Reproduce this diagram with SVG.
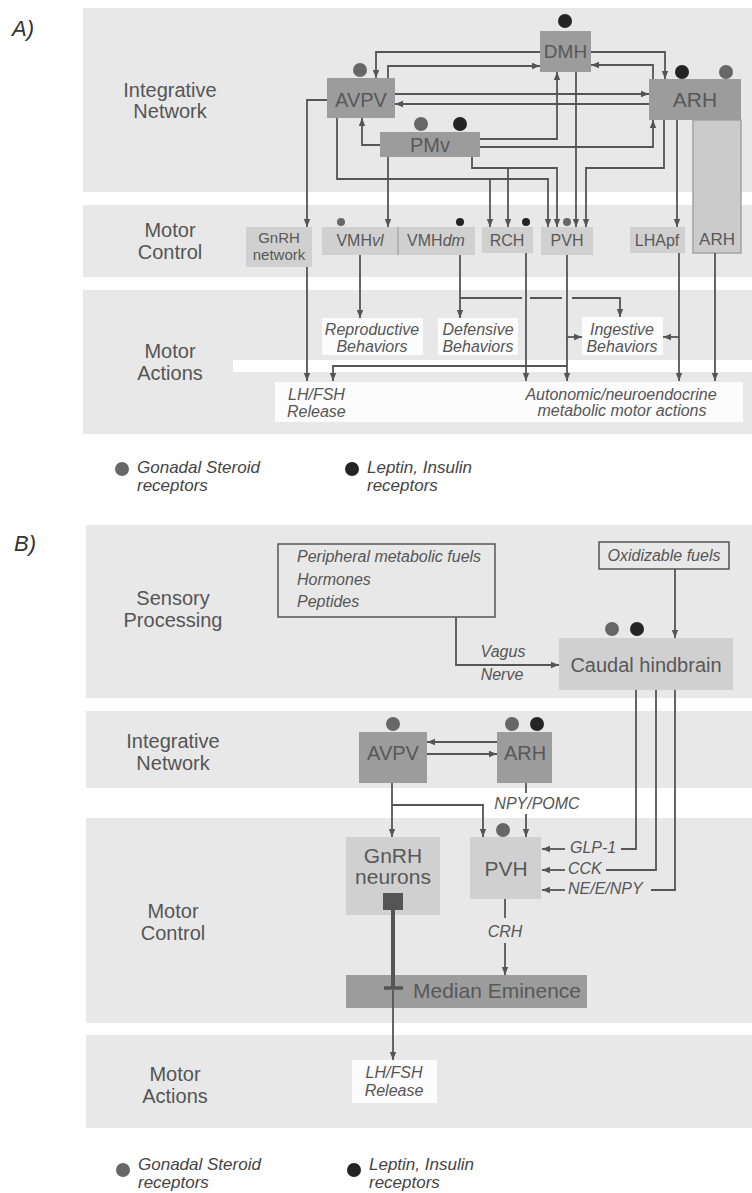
<svg xmlns="http://www.w3.org/2000/svg" width="752" height="1193" viewBox="0 0 752 1193">
<defs>
  <marker id="ah" viewBox="0 0 8 8" refX="8" refY="4" markerWidth="8" markerHeight="8" markerUnits="userSpaceOnUse" orient="auto">
    <path d="M0,0.8 L8,4 L0,7.2 z" fill="#555"/>
  </marker>
  <style>
    .band{fill:#e8e8e8}
    .white{fill:#fcfcfc}
    .lbl{font-family:"Liberation Sans",Arial,sans-serif;font-size:20px;fill:#555;text-anchor:middle}
    .dark{fill:#9c9c9c}
    .light{fill:#d0d0d0}
    .nt{font-family:"Liberation Sans",Arial,sans-serif;fill:#585858;text-anchor:middle}
    .it{font-family:"Liberation Sans",Arial,sans-serif;font-style:italic;fill:#555;font-size:16px}
    .mid{text-anchor:middle}
    .ln{fill:none;stroke:#555;stroke-width:1.8}
    .ar{marker-end:url(#ah)}
    .gd{fill:#676767}
    .bd{fill:#242424}
    .panel{font-family:"Liberation Sans",Arial,sans-serif;font-style:italic;font-size:22px;fill:#333}
    .leg{font-family:"Liberation Sans",Arial,sans-serif;font-style:italic;font-size:17px;fill:#444}
    .src{fill:none;stroke:#555;stroke-width:1.5}
  </style>
</defs>

<!-- ===== Panel A ===== -->
<g id="a-background">
  <text class="panel" x="12" y="36">A)</text>
  <rect class="band" x="83" y="8" width="669" height="184"/>
  <rect class="band" x="83" y="205" width="669" height="72"/>
  <rect class="band" x="83" y="290" width="669" height="144"/>
  <rect fill="#fff" x="233" y="360" width="519" height="12"/>
  <rect class="white" x="275" y="382" width="468" height="40"/>
  <text class="lbl" x="170" y="97">Integrative</text>
  <text class="lbl" x="170" y="118">Network</text>
  <text class="lbl" x="170" y="237">Motor</text>
  <text class="lbl" x="170" y="259">Control</text>
  <text class="lbl" x="170" y="358">Motor</text>
  <text class="lbl" x="170" y="380">Actions</text>
</g>

<g id="a-dmh">
  <circle class="bd" cx="565" cy="21" r="7"/>
  <rect class="dark" x="540" y="31" width="51" height="41"/>
  <text class="nt" x="565.5" y="58" font-size="19">DMH</text>
</g>
<g id="a-avpv">
  <circle class="gd" cx="360" cy="70" r="7"/>
  <rect class="dark" x="327" y="78" width="68" height="40"/>
  <text class="nt" x="361" y="107" font-size="20">AVPV</text>
</g>
<g id="a-pmv">
  <circle class="gd" cx="421" cy="124" r="7"/>
  <circle class="bd" cx="460" cy="124" r="7"/>
  <rect class="dark" x="380" y="132" width="100" height="25"/>
  <text class="nt" x="430" y="152" font-size="20">PMv</text>
</g>
<g id="a-arh-lower">
  <rect x="693" y="120" width="48" height="133" fill="#cbcbcb" stroke="#a3a3a3" stroke-width="1.5"/>
  <text class="nt" x="717" y="245" font-size="17">ARH</text>
</g>
<g id="a-arh">
  <circle class="bd" cx="682" cy="72" r="7"/>
  <circle class="gd" cx="726" cy="72" r="7"/>
  <rect class="dark" x="649" y="79" width="92" height="41"/>
  <text class="nt" x="695" y="107" font-size="21">ARH</text>
</g>

<g id="a-gnrh-network">
  <rect class="light" x="246" y="227" width="66" height="40"/>
  <text class="nt" x="279" y="243" font-size="15">GnRH</text>
  <text class="nt" x="279" y="260" font-size="15">network</text>
</g>
<g id="a-vmh">
  <circle class="gd" cx="341" cy="222" r="4"/>
  <circle class="bd" cx="460" cy="222" r="4"/>
  <rect class="light" x="322" y="227" width="153" height="28"/>
  <line x1="398" y1="227" x2="398" y2="255" stroke="#a8a8a8" stroke-width="1.5"/>
  <text class="nt" x="360" y="246" font-size="16">VMH<tspan font-style="italic">vl</tspan></text>
  <text class="nt" x="436" y="246" font-size="16">VMH<tspan font-style="italic">dm</tspan></text>
</g>
<g id="a-rch">
  <circle class="bd" cx="526" cy="222" r="4"/>
  <rect class="light" x="482" y="227" width="51" height="26"/>
  <text class="nt" x="507" y="246" font-size="16">RCH</text>
</g>
<g id="a-pvh">
  <circle class="gd" cx="567" cy="222" r="4"/>
  <rect class="light" x="541" y="227" width="52" height="28"/>
  <text class="nt" x="567" y="246" font-size="16">PVH</text>
</g>
<g id="a-lhapf">
  <rect class="light" x="630" y="227" width="55" height="26"/>
  <text class="nt" x="657" y="246" font-size="16">LHApf</text>
</g>

<g id="a-reproductive">
  <rect class="white" x="322" y="318" width="101" height="37"/>
  <text class="it mid" x="372" y="335">Reproductive</text>
  <text class="it mid" x="372" y="352">Behaviors</text>
</g>
<g id="a-defensive">
  <rect class="white" x="438" y="318" width="80" height="37"/>
  <text class="it mid" x="478" y="335">Defensive</text>
  <text class="it mid" x="478" y="352">Behaviors</text>
</g>
<g id="a-ingestive">
  <rect class="white" x="582" y="317" width="81" height="38"/>
  <text class="it mid" x="622" y="335">Ingestive</text>
  <text class="it mid" x="622" y="352">Behaviors</text>
</g>
<g id="a-lhfsh">
  <text class="it" x="288" y="400">LH/FSH</text>
  <text class="it" x="287" y="417">Release</text>
</g>
<g id="a-autonomic">
  <text class="it mid" x="621" y="400">Autonomic/neuroendocrine</text>
  <text class="it mid" x="622" y="416">metabolic motor actions</text>
</g>

<g id="a-legend">
  <circle class="gd" cx="122" cy="469" r="7"/>
  <text class="leg" x="137" y="473">Gonadal Steroid</text>
  <text class="leg" x="137" y="491">receptors</text>
  <circle class="bd" cx="352" cy="469" r="7"/>
  <text class="leg" x="367" y="473">Leptin, Insulin</text>
  <text class="leg" x="367" y="491">receptors</text>
</g>

<g id="a-connectors">
  <path class="ln ar" d="M540,52 H376 V78"/>
  <path class="ln ar" d="M591,52 H665 V79"/>
  <path class="ln ar" d="M388,78 V66 H540"/>
  <path class="ln ar" d="M653,79 V65 H591"/>
  <path class="ln ar" d="M395,94 H649"/>
  <path class="ln ar" d="M649,104 H395"/>
  <path class="ln ar" d="M380,145 H362 V118"/>
  <path class="ln ar" d="M480,139 H557 V72"/>
  <path class="ln ar" d="M480,147 H653 V120"/>
  <path class="ln ar" d="M576,72 V227"/>
  <path class="ln ar" d="M664,120 V168 H586 V227"/>
  <path class="ln ar" d="M337,118 V179 H548 V227"/>
  <path class="ln ar" d="M490,179 V227"/>
  <path class="ln ar" d="M472,157 V168 H557 V227"/>
  <path class="ln ar" d="M508,168 V227"/>
  <path class="ln ar" d="M388,157 V227"/>
  <path class="ln ar" d="M327,100 H307 V227"/>
  <path class="ln ar" d="M677,120 V227"/>
  <path class="ln ar" d="M307,267 V381"/>
  <path class="ln ar" d="M360,255 V318"/>
  <path class="ln ar" d="M460,255 V318"/>
  <path class="ln ar" d="M460,298 H522 M530,298 H562 M572,298 H620 V317"/>
  <path class="ln ar" d="M526,253 V381"/>
  <path class="ln ar" d="M567,255 V381"/>
  <path class="ln ar" d="M567,337 H582"/>
  <path class="ln ar" d="M567,366 H333 V381"/>
  <path class="ln ar" d="M679,253 V381"/>
  <path class="ln ar" d="M679,337 H663"/>
  <path class="ln ar" d="M715,253 V381"/>
</g>

<!-- ===== Panel B ===== -->
<g id="b-background">
  <text class="panel" x="14" y="551">B)</text>
  <rect class="band" x="86" y="525" width="666" height="173"/>
  <rect class="band" x="86" y="711" width="666" height="77"/>
  <rect class="band" x="86" y="818" width="666" height="205"/>
  <rect class="band" x="86" y="1035" width="666" height="93"/>
  <text class="lbl" x="173" y="605">Sensory</text>
  <text class="lbl" x="173" y="627">Processing</text>
  <text class="lbl" x="173" y="748">Integrative</text>
  <text class="lbl" x="173" y="770">Network</text>
  <text class="lbl" x="173" y="918">Motor</text>
  <text class="lbl" x="173" y="940">Control</text>
  <text class="lbl" x="175" y="1081">Motor</text>
  <text class="lbl" x="175" y="1103">Actions</text>
</g>

<g id="b-peripheral">
  <rect class="src" x="278" y="544" width="217" height="73"/>
  <text class="it" x="297" y="562">Peripheral metabolic fuels</text>
  <text class="it" x="297" y="585">Hormones</text>
  <text class="it" x="297" y="607">Peptides</text>
</g>
<g id="b-oxidizable">
  <rect class="src" x="599" y="542" width="130" height="27"/>
  <text class="it mid" x="664" y="561">Oxidizable fuels</text>
</g>
<g id="b-caudal">
  <circle class="gd" cx="612" cy="629" r="7"/>
  <circle class="bd" cx="637" cy="629" r="7"/>
  <rect class="light" x="559" y="638" width="174" height="52"/>
  <text class="nt" x="646" y="672" font-size="20">Caudal hindbrain</text>
</g>
<g id="b-avpv">
  <circle class="gd" cx="393" cy="724" r="7"/>
  <rect class="dark" x="359" y="732" width="68" height="51"/>
  <text class="nt" x="393" y="760" font-size="20">AVPV</text>
</g>
<g id="b-arh">
  <circle class="gd" cx="512" cy="724" r="7"/>
  <circle class="bd" cx="537" cy="724" r="7"/>
  <rect class="dark" x="497" y="732" width="55" height="51"/>
  <text class="nt" x="525" y="760" font-size="20">ARH</text>
</g>
<g id="b-gnrh">
  <rect class="light" x="346" y="837" width="94" height="78"/>
  <text class="nt" x="393" y="863" font-size="21">GnRH</text>
  <text class="nt" x="393" y="884" font-size="21">neurons</text>
  <rect x="383" y="893" width="20" height="17" fill="#555"/>
</g>
<g id="b-pvh">
  <circle class="gd" cx="503" cy="830" r="7"/>
  <rect class="light" x="470" y="837" width="71" height="62"/>
  <text class="nt" x="506" y="876" font-size="21">PVH</text>
</g>
<g id="b-median-eminence">
  <rect class="dark" x="346" y="975" width="241" height="33"/>
  <text class="nt" x="497" y="998" font-size="21">Median Eminence</text>
</g>
<g id="b-lhfsh">
  <rect class="white" x="352" y="1060" width="85" height="43"/>
  <text class="it mid" x="394" y="1078">LH/FSH</text>
  <text class="it mid" x="394" y="1096">Release</text>
</g>

<g id="b-legend">
  <circle class="gd" cx="123" cy="1170" r="7"/>
  <text class="leg" x="138" y="1170">Gonadal Steroid</text>
  <text class="leg" x="138" y="1188">receptors</text>
  <circle class="bd" cx="354" cy="1170" r="7"/>
  <text class="leg" x="369" y="1170">Leptin, Insulin</text>
  <text class="leg" x="369" y="1188">receptors</text>
</g>

<g id="b-connectors">
  <path class="ln ar" d="M456,617 V665 H559"/>
  <text class="it mid" x="503" y="657">Vagus</text>
  <text class="it mid" x="502" y="680">Nerve</text>
  <path class="ln ar" d="M675,569 V638"/>
  <path class="ln ar" d="M497,742 H427"/>
  <path class="ln ar" d="M427,754 H497"/>
  <path class="ln ar" d="M392,783 V837"/>
  <path class="ln ar" d="M392,805 H483 V837"/>
  <path class="ln" d="M526,783 V793"/>
  <text class="it mid" x="537" y="809">NPY/POMC</text>
  <path class="ln ar" d="M526,814 V837"/>
  <path class="ln" d="M636,690 V849 H621"/>
  <path class="ln" d="M656,690 V870 H606"/>
  <path class="ln" d="M675,690 V890 H651"/>
  <path class="ln ar" d="M565,849 H542"/>
  <path class="ln ar" d="M565,870 H542"/>
  <path class="ln ar" d="M565,890 H542"/>
  <text class="it" x="570" y="853">GLP-1</text>
  <text class="it" x="568" y="874">CCK</text>
  <text class="it" x="568" y="894">NE/E/NPY</text>
  <path class="ln" d="M505,899 V918"/>
  <text class="it mid" x="505" y="937">CRH</text>
  <path class="ln ar" d="M505,943 V975"/>
  <path d="M393,910 V988" stroke="#555" stroke-width="4" fill="none"/>
  <path d="M384,988 H403" stroke="#555" stroke-width="3.5" fill="none"/>
  <path class="ln ar" d="M393,990 V1060"/>
</g>
</svg>
